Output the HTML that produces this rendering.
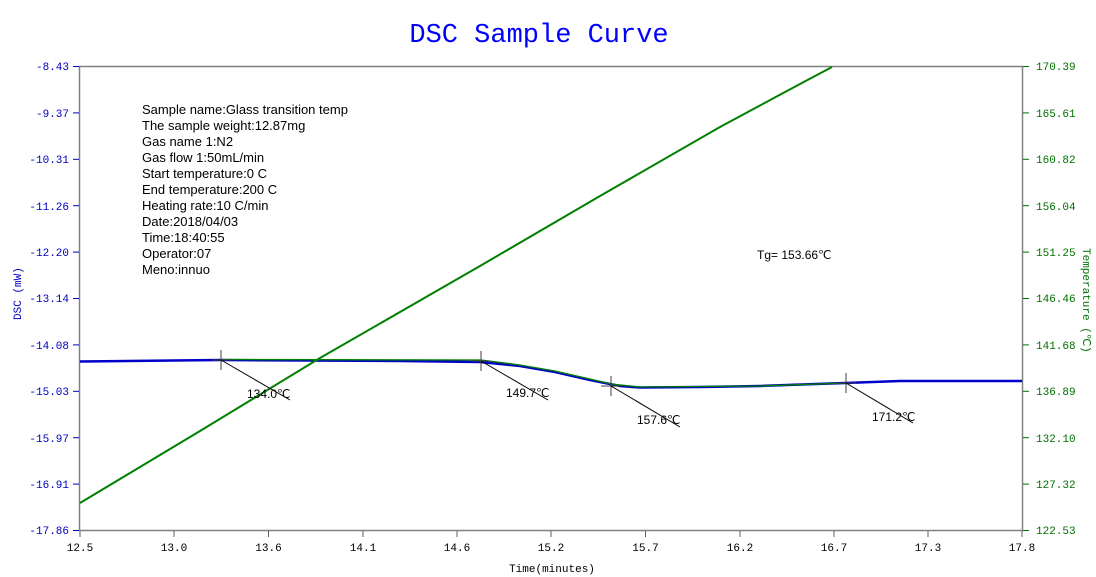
<!DOCTYPE html>
<html><head><style>
body{margin:0;background:#fff;width:1096px;height:577px;overflow:hidden}
svg{display:block}
.yl{font:11px "Liberation Mono",monospace;fill:#0000c0}
.yr{font:11px "Liberation Mono",monospace;fill:#007000}
.xl{font:11px "Liberation Mono",monospace;fill:#000}
.info{font:13px "Liberation Sans",sans-serif;fill:#000}
.lab{font:12px "Liberation Sans",sans-serif;fill:#000}
</style></head><body>
<svg width="1096" height="577" xmlns="http://www.w3.org/2000/svg">
<text x="539" y="42" text-anchor="middle" font-family="Liberation Mono,monospace" font-size="27" fill="#0000ff">DSC Sample Curve</text>
<rect x="79.5" y="66.5" width="943" height="464" fill="none" stroke="#808080" stroke-width="1.5"/>
<g stroke="#0000c0">
<line x1="73" y1="66.5" x2="79" y2="66.5"/><line x1="73" y1="112.9" x2="79" y2="112.9"/><line x1="73" y1="159.3" x2="79" y2="159.3"/><line x1="73" y1="205.7" x2="79" y2="205.7"/><line x1="73" y1="252.1" x2="79" y2="252.1"/><line x1="73" y1="298.5" x2="79" y2="298.5"/><line x1="73" y1="344.9" x2="79" y2="344.9"/><line x1="73" y1="391.3" x2="79" y2="391.3"/><line x1="73" y1="437.7" x2="79" y2="437.7"/><line x1="73" y1="484.1" x2="79" y2="484.1"/><line x1="73" y1="530.5" x2="79" y2="530.5"/>
</g>
<g class="yl" text-anchor="end">
<text x="69" y="70">-8.43</text><text x="69" y="117">-9.37</text><text x="69" y="163">-10.31</text><text x="69" y="210">-11.26</text><text x="69" y="256">-12.20</text><text x="69" y="302">-13.14</text><text x="69" y="349">-14.08</text><text x="69" y="395">-15.03</text><text x="69" y="442">-15.97</text><text x="69" y="488">-16.91</text><text x="69" y="534">-17.86</text>
</g>
<g stroke="#007000">
<line x1="1023" y1="66.5" x2="1029" y2="66.5"/><line x1="1023" y1="112.9" x2="1029" y2="112.9"/><line x1="1023" y1="159.3" x2="1029" y2="159.3"/><line x1="1023" y1="205.7" x2="1029" y2="205.7"/><line x1="1023" y1="252.1" x2="1029" y2="252.1"/><line x1="1023" y1="298.5" x2="1029" y2="298.5"/><line x1="1023" y1="344.9" x2="1029" y2="344.9"/><line x1="1023" y1="391.3" x2="1029" y2="391.3"/><line x1="1023" y1="437.7" x2="1029" y2="437.7"/><line x1="1023" y1="484.1" x2="1029" y2="484.1"/><line x1="1023" y1="530.5" x2="1029" y2="530.5"/>
</g>
<g class="yr">
<text x="1036" y="70">170.39</text><text x="1036" y="117">165.61</text><text x="1036" y="163">160.82</text><text x="1036" y="210">156.04</text><text x="1036" y="256">151.25</text><text x="1036" y="302">146.46</text><text x="1036" y="349">141.68</text><text x="1036" y="395">136.89</text><text x="1036" y="442">132.10</text><text x="1036" y="488">127.32</text><text x="1036" y="534">122.53</text>
</g>
<text transform="translate(1083,248) rotate(90)" class="yr" font-size="10">Temperature (℃)</text>
<text transform="translate(21,320) rotate(-90)" class="yl" font-size="10">DSC (mW)</text>
<g stroke="#606060">
<line x1="80" y1="531" x2="80" y2="537"/><line x1="174" y1="531" x2="174" y2="537"/><line x1="268.5" y1="531" x2="268.5" y2="537"/><line x1="363" y1="531" x2="363" y2="537"/><line x1="457" y1="531" x2="457" y2="537"/><line x1="551" y1="531" x2="551" y2="537"/><line x1="645.5" y1="531" x2="645.5" y2="537"/><line x1="740" y1="531" x2="740" y2="537"/><line x1="834" y1="531" x2="834" y2="537"/><line x1="928" y1="531" x2="928" y2="537"/><line x1="1022" y1="531" x2="1022" y2="537"/>
</g>
<g class="xl" text-anchor="middle">
<text x="80" y="551">12.5</text><text x="174" y="551">13.0</text><text x="268.5" y="551">13.6</text><text x="363" y="551">14.1</text><text x="457" y="551">14.6</text><text x="551" y="551">15.2</text><text x="645.5" y="551">15.7</text><text x="740" y="551">16.2</text><text x="834" y="551">16.7</text><text x="928" y="551">17.3</text><text x="1022" y="551">17.8</text>
</g>
<text x="552" y="572" text-anchor="middle" class="xl" font-size="10">Time(minutes)</text>
<g class="info">
<text x="142" y="114">Sample name:Glass transition temp</text>
<text x="142" y="130">The sample weight:12.87mg</text>
<text x="142" y="146">Gas name 1:N2</text>
<text x="142" y="162">Gas flow 1:50mL/min</text>
<text x="142" y="178">Start temperature:0 C</text>
<text x="142" y="194">End temperature:200 C</text>
<text x="142" y="210">Heating rate:10 C/min</text>
<text x="142" y="226">Date:2018/04/03</text>
<text x="142" y="242">Time:18:40:55</text>
<text x="142" y="258">Operator:07</text>
<text x="142" y="274">Meno:innuo</text>
</g>
<text x="757" y="259" class="lab">Tg= 153.66℃</text>
<polyline fill="none" stroke="#0000c8" stroke-width="2.5" points="80,361.5 220,360 400,361 480,362 520,366 555,372 590,380 620,386 640,387.5 700,387 760,386 845,383 900,381 1022,381"/>
<polyline fill="none" stroke="#008000" stroke-width="2" points="80,503 200,431 320,358 480,266 600,196 720,127 800,84 832,67"/>
<polyline fill="none" stroke="#008000" stroke-width="1.3" points="221,359.5 481,360 520,365 555,371 590,379 611,384 640,387 760,386 846,383"/>
<g stroke="#404040" stroke-width="1">
<line x1="221" y1="350" x2="221" y2="370"/><line x1="211" y1="360" x2="231" y2="360"/>
<line x1="481" y1="351" x2="481" y2="371"/><line x1="471" y1="361" x2="491" y2="361"/>
<line x1="611" y1="376" x2="611" y2="396"/><line x1="601" y1="386" x2="621" y2="386"/>
<line x1="846" y1="373" x2="846" y2="393"/><line x1="836" y1="383" x2="856" y2="383"/>
</g>
<g stroke="#000" stroke-width="1">
<line x1="221" y1="360" x2="290" y2="400"/><line x1="481" y1="361" x2="548" y2="400"/><line x1="611" y1="386" x2="680" y2="427"/><line x1="846" y1="383" x2="913" y2="423"/>
</g>
<g class="lab">
<text x="247" y="398">134.0℃</text><text x="506" y="397">149.7℃</text><text x="637" y="424">157.6℃</text><text x="872" y="421">171.2℃</text>
</g>
</svg>
</body></html>
